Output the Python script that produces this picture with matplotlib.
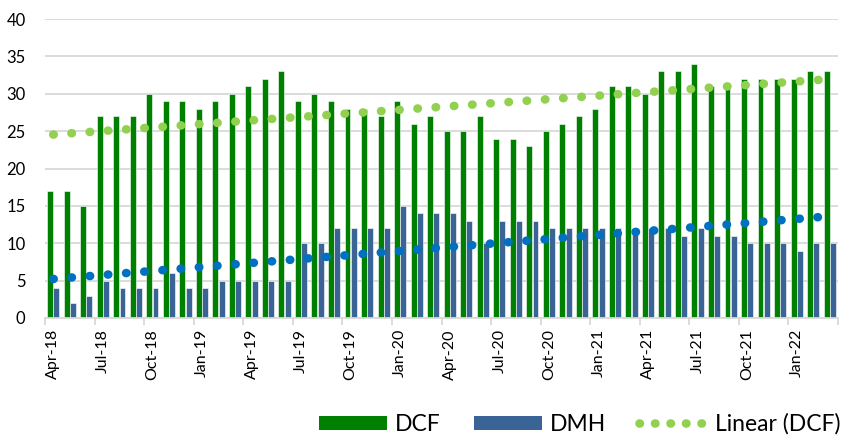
import numpy as np
import matplotlib.pyplot as plt
from matplotlib.patches import Patch
from matplotlib.lines import Line2D

plt.rcParams['font.family'] = ['Lato', 'DejaVu Sans']

# =========================
# DATA
# =========================
months = ["Apr-18", "May-18", "Jun-18", "Jul-18", "Aug-18", "Sep-18", "Oct-18", "Nov-18", "Dec-18",
          "Jan-19", "Feb-19", "Mar-19", "Apr-19", "May-19", "Jun-19", "Jul-19", "Aug-19", "Sep-19",
          "Oct-19", "Nov-19", "Dec-19", "Jan-20", "Feb-20", "Mar-20", "Apr-20", "May-20", "Jun-20",
          "Jul-20", "Aug-20", "Sep-20", "Oct-20", "Nov-20", "Dec-20", "Jan-21", "Feb-21", "Mar-21",
          "Apr-21", "May-21", "Jun-21", "Jul-21", "Aug-21", "Sep-21", "Oct-21", "Nov-21", "Dec-21",
          "Jan-22", "Feb-22", "Mar-22"]

dcf = [17, 17, 15, 27, 27, 27, 30, 29, 29, 28, 29, 30,
       31, 32, 33, 29, 30, 29, 28, 28, 27, 29, 26, 27,
       25, 25, 27, 24, 24, 23, 25, 26, 27, 28, 31, 31,
       30, 33, 33, 34, 31, 31, 32, 32, 32, 32, 33, 33]

dmh = [4, 2, 3, 5, 4, 4, 4, 6, 4, 4, 5, 5,
       5, 5, 5, 10, 10, 12, 12, 12, 12, 15, 14, 14,
       14, 13, 10, 13, 13, 13, 12, 12, 12, 12, 12, 12,
       12, 12, 11, 12, 11, 11, 10, 10, 10, 9, 10, 10]

# =========================
# COLOURS
# =========================
GREEN = '#008000'
BLUE = '#3A6496'
TREND_GREEN = '#92D050'
TREND_BLUE = '#0070C0'
GRID = '#D9D9D9'

x = np.arange(len(months))

# linear trendlines (as Excel would add them)
dcf_fit = np.polyval(np.polyfit(x, dcf, 1), x)
dmh_fit = np.polyval(np.polyfit(x, dmh, 1), x)

# =========================
# PLOT
# =========================
fig = plt.figure(figsize=(8.51, 4.37), dpi=100)
ax = fig.add_axes([45 / 851, 1 - 318 / 437, 793 / 851, 299 / 437])

w = 0.36
ax.bar(x - 0.19, dcf, width=w, color=GREEN, edgecolor='white', linewidth=0.4, zorder=2)
ax.bar(x + 0.19, dmh, width=w, color=BLUE, edgecolor='white', linewidth=0.4, zorder=2)

# round dots: tiny dashes with round caps
dot_style = dict(linestyle=(0, (0.05, 2.07)), linewidth=6.2,
                 dash_capstyle='round', zorder=3)
ax.plot(x, dcf_fit, color=TREND_GREEN, **dot_style)
ax.plot(x, dmh_fit, color=TREND_BLUE, **dot_style)

ax.set_xlim(-0.5, len(months) - 0.5)
ax.set_ylim(0, 40)
ax.set_yticks(range(0, 41, 5))
ax.yaxis.grid(True, color=GRID, linewidth=1.3, zorder=0)
ax.set_axisbelow(True)

# labels on every 3rd month, tick marks on category boundaries
ax.set_xticks(x[::3])
ax.set_xticklabels(months[::3], rotation=90, fontsize=11.5)
ax.set_xticks(np.arange(-0.5, len(months), 3), minor=True)
ax.tick_params(axis='x', which='major', length=0, pad=8)
ax.tick_params(axis='x', which='minor', length=5, color=GRID, width=1.3)
ax.tick_params(axis='y', length=0, labelsize=12, pad=14)

for side in ['top', 'right', 'left']:
    ax.spines[side].set_visible(False)
ax.spines['bottom'].set_color(GRID)
ax.spines['bottom'].set_linewidth(1.3)

# legend (the DMH trendline entry is left out, as in the original)
handles = [
    Patch(facecolor=GREEN, label='DCF'),
    Patch(facecolor=BLUE, label='DMH'),
    Line2D([0], [0], color=TREND_GREEN, label='Linear (DCF)', linestyle=(0, (0.05, 1.75)),
           linewidth=6.2, dash_capstyle='round'),
]
fig.legend(handles=handles, loc='center right', bbox_to_anchor=(0.998, 1 - 424 / 437),
           ncol=3, frameon=False, fontsize=16.5, handlelength=2.95, handleheight=0.55,
           handletextpad=0.35, columnspacing=1.45, borderaxespad=0)

fig.savefig('out.png', dpi=100)
